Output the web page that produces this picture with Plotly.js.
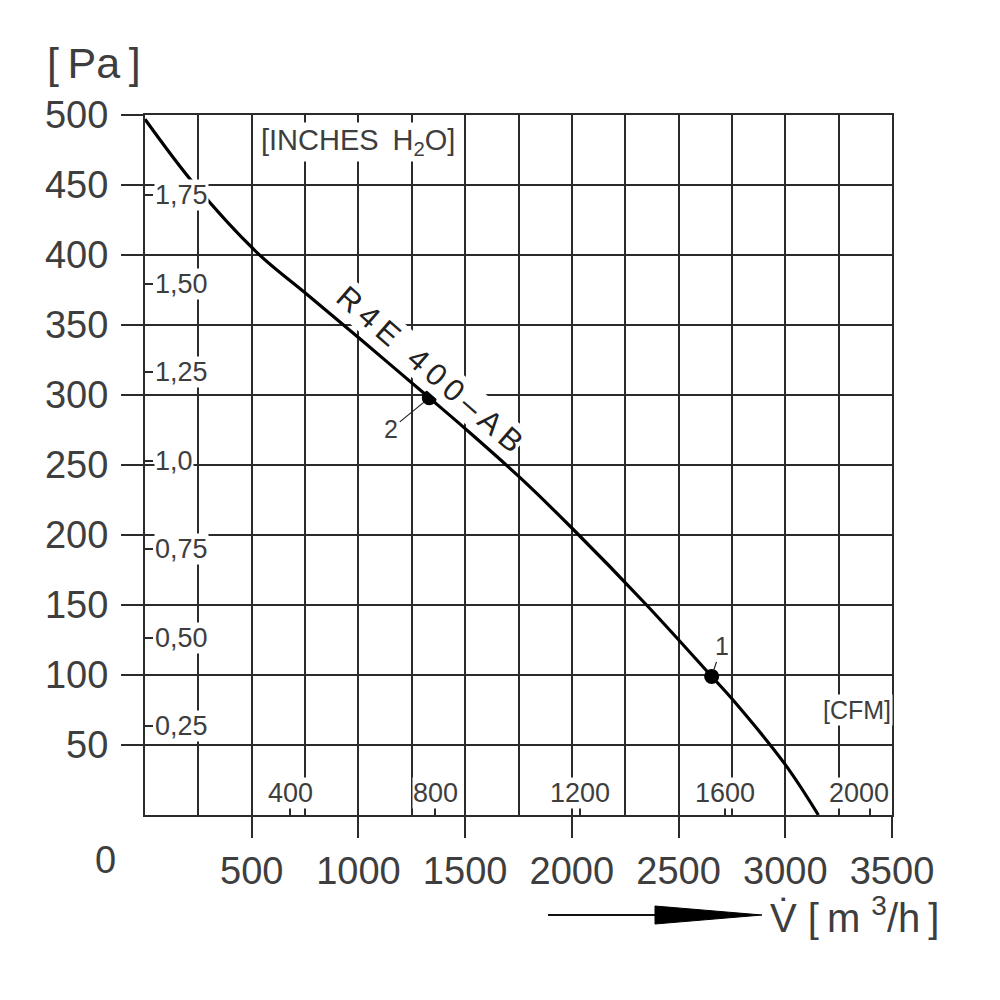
<!DOCTYPE html>
<html><head><meta charset="utf-8">
<script src="https://cdn.plot.ly/plotly-3.0.1.min.js"></script>
<style>html,body{margin:0;padding:0;background:#fff}</style>
</head><body><div id="chart" style="width:1000px;height:1000px"></div>
<script>
// Fan curve R4E 400-AB, pressure vs. volume flow
const flowM3h    = [0, 234, 530, 750, 1000, 1332, 1500, 1750, 2000, 2350, 2655, 2750, 3000, 3155];
const pressurePa = [497, 450, 401, 373, 341, 298, 276, 242, 205, 150, 99, 83, 36, 0];
const pointFlow = [2655, 1332];
const pointPa = [99, 298];
const pointLabels = ['1', '2'];
const xTickVals = [500, 1000, 1500, 2000, 2500, 3000, 3500];
const yTickVals = [50, 100, 150, 200, 250, 300, 350, 400, 450, 500];
const cfmTicks = [400, 800, 1200, 1600, 2000];
const inchTicks = [0.25, 0.5, 0.75, 1.0, 1.25, 1.5, 1.75];
const inchLabels = ['0,25', '0,50', '0,75', '1,0', '1,25', '1,50', '1,75'];
const M3H_PER_CFM = 1.699;
const PA_PER_INCH = 253;
const X_MAX = 3500, Y_MAX = 500;

const LINE = '#2b2b2b', TXT = '#3e3e3e', FONT = 'Liberation Sans, Arial, sans-serif';
const L = 145, R = 108, T = 115, B = 185, W = 1000, H = 1000;
const PW = W - L - R, PH = H - T - B;
const px = v => (v - L) / PW, py = v => (H - B - v) / PH;

const traces = [
  {x: flowM3h, y: pressurePa, mode: 'lines', line: {color: '#000', width: 3.2, shape: 'spline', smoothing: 1.0},
   hoverinfo: 'skip', showlegend: false},
  {x: pointFlow, y: pointPa, mode: 'markers', marker: {color: '#000', size: 15},
   hoverinfo: 'skip', showlegend: false},
  {x: [0], y: [0], xaxis: 'x2', yaxis: 'y2', mode: 'markers', marker: {opacity: 0},
   hoverinfo: 'skip', showlegend: false}
];

const annotations = [];
const offs = {'1': [10, -30], '2': [-38, 31]};
pointLabels.forEach((t, i) => annotations.push({
  x: pointFlow[i], y: pointPa[i], xref: 'x', yref: 'y', text: t, showarrow: true,
  arrowhead: 0, arrowwidth: 1.2, arrowcolor: '#222', ax: offs[t][0], ay: offs[t][1],
  standoff: 6, font: {family: FONT, size: 25, color: TXT}
}));
cfmTicks.forEach((c) => {
  const xv = c * M3H_PER_CFM;
  const last = xv > X_MAX - 200;
  annotations.push({
    x: last ? X_MAX : xv, y: 0, xref: 'x', yref: 'y', yanchor: 'middle',
    xanchor: last ? 'right' : 'center', xshift: last ? -2 : 0, yshift: 22,
    text: String(c), showarrow: false, bgcolor: '#fff', borderpad: 0,
    font: {family: FONT, size: 27, color: TXT}
  });
});
inchTicks.forEach((v, i) => annotations.push({
  x: 0, y: v * PA_PER_INCH, xref: 'paper', yref: 'y', xanchor: 'left', yanchor: 'middle',
  xshift: 9, text: inchLabels[i], showarrow: false, bgcolor: '#fff', borderpad: 0,
  font: {family: FONT, size: 27, color: TXT}
}));
annotations.push(
  {x: 0, y: 0, xref: 'x', yref: 'y', xshift: -40, yshift: -45, text: '0', showarrow: false,
   font: {family: FONT, size: 38, color: TXT}},
  {x: 0, y: 1, xref: 'paper', yref: 'paper', xanchor: 'right', yanchor: 'middle', xshift: -2, yshift: 52,
   text: '[\u2009Pa\u2009]', showarrow: false, font: {family: FONT, size: 43, color: TXT}},
  {x: 1000, y: 481, xref: 'x', yref: 'y', text: '[INCHES\u2009 H<sub>2</sub>O]', showarrow: false,
   bgcolor: '#fff', borderpad: 1, font: {family: FONT, size: 29, color: TXT}},
  {x: 3336, y: 75, xref: 'x', yref: 'y', text: '[CFM]', showarrow: false,
   bgcolor: '#fff', borderpad: 1, font: {family: FONT, size: 25, color: TXT}},
  {x: 1335, y: 318, xref: 'x', yref: 'y', text: 'R\u20094\u2009E\u2009 \u20094\u20090\u20090\u2009\u2013\u2009A\u2009B', textangle: 41,
   showarrow: false, bgcolor: '#fff', borderpad: 0, font: {family: FONT, size: 31, color: '#222'}},
  {x: px(768), y: py(915), xref: 'paper', yref: 'paper', xanchor: 'left', yanchor: 'middle',
   text: 'V\u0307 [\u2009m <sup>3</sup>/h\u2009]', showarrow: false, font: {family: FONT, size: 40, color: TXT}}
);

const shapes = [
  {type: 'line', xref: 'paper', yref: 'paper', x0: px(548), x1: px(660), y0: py(915), y1: py(915),
   line: {color: '#111', width: 2}},
  {type: 'path', xref: 'paper', yref: 'paper',
   path: `M ${px(655)} ${py(906)} L ${px(762)} ${py(915)} L ${px(655)} ${py(924)} Z`,
   fillcolor: '#000', line: {color: '#000', width: 1}}
];

const axFont = {family: FONT, size: 38, color: TXT};
const layout = {
  width: W, height: H, margin: {l: L, r: R, t: T, b: B},
  paper_bgcolor: '#fff', plot_bgcolor: '#fff', showlegend: false,
  xaxis: {range: [0, X_MAX], tickmode: 'array', tickvals: xTickVals, ticktext: xTickVals.map(String),
    ticks: 'outside', ticklen: 21, tickwidth: 2, tickcolor: LINE, tickfont: axFont,
    showgrid: true, gridcolor: LINE, gridwidth: 2, zeroline: false,
    showline: true, linecolor: LINE, linewidth: 2, mirror: true,
    minor: {tickmode: 'linear', tick0: 0, dtick: 250, showgrid: true, gridcolor: LINE, gridwidth: 2, ticks: ''},
    fixedrange: true},
  yaxis: {range: [0, Y_MAX], tickmode: 'array', tickvals: yTickVals, ticktext: yTickVals.map(String),
    ticks: 'outside', ticklen: 22, tickwidth: 2, tickcolor: LINE, tickfont: axFont, ticklabelstandoff: 5,
    showgrid: true, gridcolor: LINE, gridwidth: 2, zeroline: false,
    showline: true, linecolor: LINE, linewidth: 2, mirror: true, fixedrange: true},
  xaxis2: {overlaying: 'x', anchor: 'y2', side: 'bottom', range: [0, X_MAX / M3H_PER_CFM],
    tickmode: 'array', tickvals: cfmTicks, ticks: 'inside', ticklen: 8, tickwidth: 2, tickcolor: LINE,
    showticklabels: false, showgrid: false, zeroline: false, showline: false, fixedrange: true},
  yaxis2: {overlaying: 'y', anchor: 'x2', side: 'left', range: [0, Y_MAX / PA_PER_INCH],
    tickmode: 'array', tickvals: inchTicks, ticks: 'inside', ticklen: 8, tickwidth: 2, tickcolor: LINE,
    showticklabels: false, showgrid: false, zeroline: false, showline: false, fixedrange: true},
  annotations, shapes
};
Plotly.newPlot('chart', traces, layout, {staticPlot: true, displayModeBar: false});
</script></body></html>
